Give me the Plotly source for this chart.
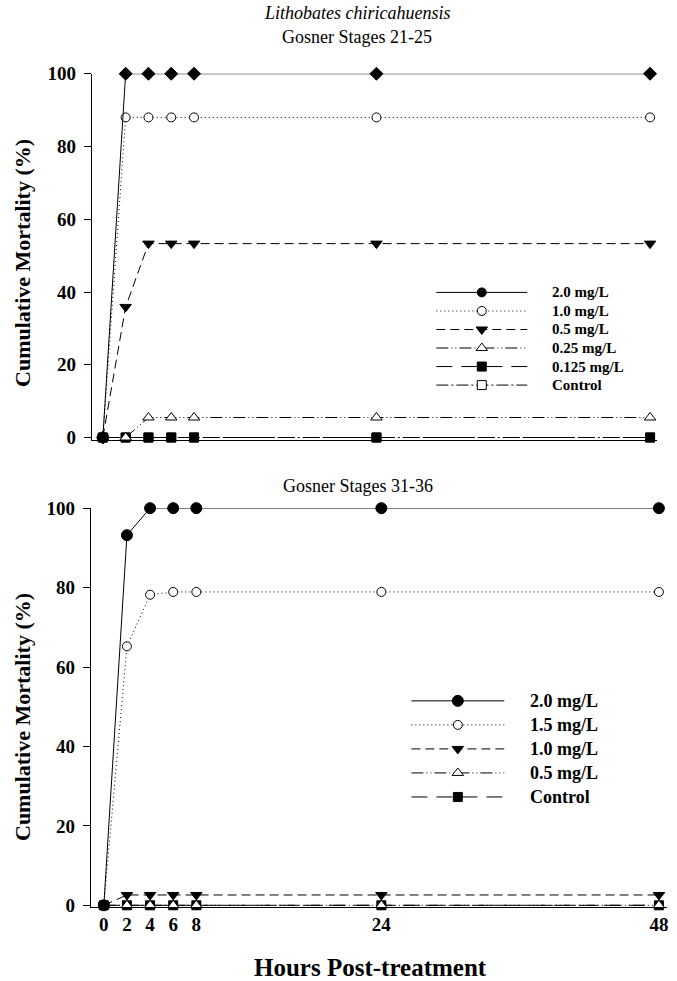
import plotly.graph_objects as go

# ---------------- data ----------------
hours = [0, 2, 4, 6, 8, 24, 48]
tick_labels = ["0", "2", "4", "6", "8", "24", "48"]

# Gosner Stages 21-25
top_names = ["2.0 mg/L", "1.0 mg/L", "0.5 mg/L", "0.25 mg/L", "0.125 mg/L", "Control"]
top_20 = [0, 100, 100, 100, 100, 100, 100]
top_10 = [0, 88, 88, 88, 88, 88, 88]
top_05 = [0, 35.9, 53.3, 53.3, 53.3, 53.3, 53.3]
top_025 = [0, 0, 5.5, 5.5, 5.5, 5.5, 5.5]
top_0125 = [0, 0, 0, 0, 0, 0, 0]
top_ctrl = [0, 0, 0, 0, 0, 0, 0]

# Gosner Stages 31-36
bot_names = ["2.0 mg/L", "1.5 mg/L", "1.0 mg/L", "0.5 mg/L", "Control"]
bot_20 = [0, 93.2, 100, 100, 100, 100, 100]
bot_15 = [0, 65.2, 78.2, 78.9, 78.9, 78.9, 78.9]
bot_10 = [0, 2.6, 2.6, 2.6, 2.6, 2.6, 2.6]
bot_05 = [0, 0, 0, 0, 0, 0, 0]
bot_ctrl = [0, 0, 0, 0, 0, 0, 0]

y_ticks = [0, 20, 40, 60, 80, 100]

# ---------------- styles ----------------
FONT = "Liberation Serif"
W, H = 677, 981

SOLID = "solid"
DOT = "1px,3px"
DASH = "9px,5px"
DDOT = "12px,3px,1px,3px,1px,3px"
LONG = "16px,9px"
DASHDOT = "12px,3px,2px,3px"

def mk(symbol, filled, size=10):
    return dict(symbol=symbol, size=size,
                color="black" if filled else "white",
                line=dict(color="black", width=1))

top_styles = [
    (DASHDOT, mk("square", False, 9)),     # Control
    (LONG, mk("square", True, 9)),         # 0.125
    (DDOT, mk("triangle-up", False, 10)),  # 0.25
    (DASH, mk("triangle-down", True, 10)), # 0.5
    (DOT, mk("circle", False, 9)),         # 1.0
    (SOLID, mk("diamond", True, 10)),      # 2.0
]
top_series = [top_ctrl, top_0125, top_025, top_05, top_10, top_20]

bot_styles = [
    (LONG, mk("square", True, 9)),         # Control
    (DDOT, mk("triangle-up", False, 10)),  # 0.5
    (DASH, mk("triangle-down", True, 10)), # 1.0
    (DOT, mk("circle", False, 9)),         # 1.5
    (SOLID, mk("circle", True, 11)),       # 2.0
]
bot_series = [bot_ctrl, bot_05, bot_10, bot_15, bot_20]

fig = go.Figure()

for ys, (dash, marker) in zip(top_series, top_styles):
    fig.add_trace(go.Scatter(x=hours, y=ys, xaxis="x", yaxis="y", mode="lines+markers",
                             line=dict(color="black", width=1, dash=dash),
                             marker=marker, cliponaxis=False, showlegend=False))
for ys, (dash, marker) in zip(bot_series, bot_styles):
    fig.add_trace(go.Scatter(x=hours, y=ys, xaxis="x2", yaxis="y2", mode="lines+markers",
                             line=dict(color="black", width=1, dash=dash),
                             marker=marker, cliponaxis=False, showlegend=False))

# ---------------- legends (drawn on a pixel overlay axis) ----------------
top_leg_styles = [
    (SOLID, mk("circle", True, 9)),
    (DOT, mk("circle", False, 9)),
    (DASH, mk("triangle-down", True, 10)),
    (DDOT, mk("triangle-up", False, 10)),
    (LONG, mk("square", True, 9)),
    (DASHDOT, mk("square", False, 9)),
]
top_rows = [288, 306.9, 325.8, 344.7, 363.6, 382.5]
bot_leg_styles = [
    (SOLID, mk("circle", True, 11)),
    (DOT, mk("circle", False, 9)),
    (DASH, mk("triangle-down", True, 10)),
    (DDOT, mk("triangle-up", False, 10)),
    (LONG, mk("square", True, 9)),
]
bot_rows = [704.5, 729, 753.5, 778, 802.5]

annotations = []

def legend(rows, styles, names, x0, x1, tx, fsize):
    for yy, (dash, marker), name in zip(rows, styles, names):
        fig.add_trace(go.Scatter(x=[x0, x1], y=[yy, yy], xaxis="x3", yaxis="y3", mode="lines",
                                 line=dict(color="black", width=1, dash=dash),
                                 showlegend=False, hoverinfo="skip", cliponaxis=False))
        fig.add_trace(go.Scatter(x=[(x0 + x1) / 2], y=[yy], xaxis="x3", yaxis="y3", mode="markers",
                                 marker=marker, showlegend=False, hoverinfo="skip", cliponaxis=False))
        annotations.append(dict(x=tx, y=yy, xref="x3", yref="y3", text="<b>%s</b>" % name,
                                showarrow=False, xanchor="left", yanchor="middle",
                                font=dict(family=FONT, size=fsize, color="black")))

legend(top_rows, top_leg_styles, top_names, 437, 528, 551, 15)
legend(bot_rows, bot_leg_styles, bot_names, 412, 505, 529, 18)

def txt(x, y, s, size, angle=0):
    annotations.append(dict(x=x, y=y, xref="x3", yref="y3", text=s, showarrow=False,
                            xanchor="center", yanchor="middle", textangle=angle,
                            font=dict(family=FONT, size=size, color="black")))

txt(358, 3, "<i>Lithobates chiricahuensis</i>", 18)
txt(358, 28, "Gosner Stages 21-25", 18)
txt(359, 485, "Gosner Stages 31-36", 18)
txt(22, 258, "<b>Cumulative Mortality (%)</b>", 22, -90)
txt(22, 721, "<b>Cumulative Mortality (%)</b>", 22, -90)
txt(371, 976, "<b>Hours Post-treatment</b>", 25)

def px(v):
    return v / W

def py(v):
    return 1 - v / H

axis_common = dict(showgrid=False, zeroline=False, showline=True, linecolor="black",
                   linewidth=1, fixedrange=True)
tickfont = dict(family=FONT, size=19, color="black")

fig.update_layout(
    width=W, height=H, autosize=False,
    margin=dict(l=0, r=0, t=0, b=0),
    paper_bgcolor="white", plot_bgcolor="rgba(0,0,0,0)",
    showlegend=False,
    annotations=annotations,
    xaxis=dict(domain=[px(92), px(658)], range=[-0.963, 48.61], anchor="y",
               showticklabels=False, ticks="", **axis_common),
    yaxis=dict(domain=[py(439), py(65)], range=[-0.82, 100], anchor="x",
               tickvals=y_ticks, ticktext=["<b>%d</b>" % v for v in y_ticks],
               ticks="outside", ticklen=7, tickcolor="black", tickfont=tickfont,
               ticklabelstandoff=4, **axis_common),
    xaxis2=dict(domain=[px(91), px(668)], range=[-1.12, 48.7], anchor="y2",
                tickvals=hours, ticktext=["<b>%s</b>" % t for t in tick_labels],
                ticks="", tickfont=tickfont, ticklabelstandoff=0, **axis_common),
    yaxis2=dict(domain=[py(915), py(508)], range=[-0.5, 100], anchor="x2",
                tickvals=y_ticks, ticktext=["<b>%d</b>" % v for v in y_ticks],
                ticks="outside", ticklen=7, tickcolor="black", tickfont=tickfont,
                ticklabelstandoff=4, **axis_common),
    xaxis3=dict(domain=[0, 1], range=[0, W], visible=False, fixedrange=True, anchor="y3"),
    yaxis3=dict(domain=[0, 1], range=[H, 0], visible=False, fixedrange=True, anchor="x3"),
)

fig.write_html("out.html", config={"displayModeBar": False},
               post_script="document.body.style.margin='0';document.body.style.overflow='hidden';")
